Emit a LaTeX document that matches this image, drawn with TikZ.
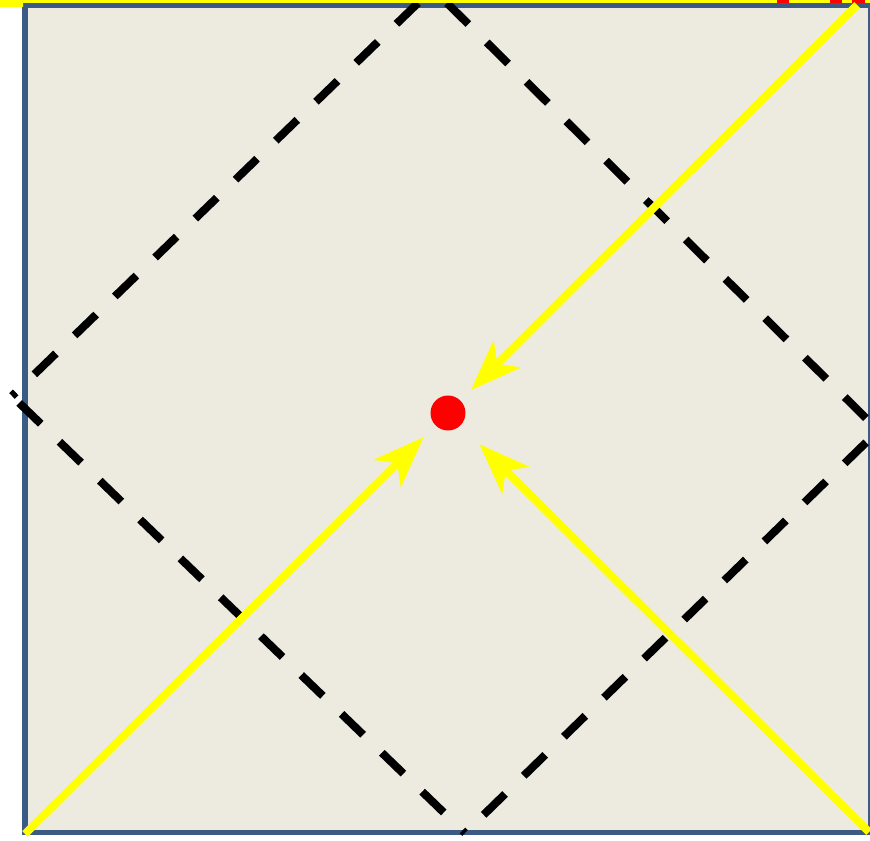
\documentclass[tikz,border=0pt]{standalone}
\usepackage{tikz}
\usetikzlibrary{arrows.meta}
\definecolor{PaperBeige}{HTML}{EDEBE0}
\definecolor{FrameBlue}{HTML}{3B5B85}
\definecolor{RayYellow}{HTML}{FFFF00}
\definecolor{EventRed}{HTML}{FF0000}

\begin{document}
\begin{tikzpicture}[x=0.02cm,y=-0.02cm,
    cone/.style={black, line width=0.16cm, dash pattern=on 0.6cm off 0.52cm},
    ray/.style={RayYellow, line width=0.16cm, -{Stealth[length=1.02cm,width=0.76cm,inset=0.28cm]}},
    event/.style={circle, fill=EventRed, inner sep=0pt, minimum size=0.7cm}]
        \useasboundingbox (0,0) rectangle (870,841);

        \fill[PaperBeige] (25,5) rectangle (871,833);
        \draw[FrameBlue, line width=0.11cm] (25,5.5) rectangle (871,832.5);

        % light cone of the event
        \coordinate (top) at (418,3);
        \coordinate (topR) at (447,3);
        \coordinate (left) at (12,396);
        \coordinate (bottom) at (465,833);
        \coordinate (rightA) at (885,437);
        \coordinate (rightB) at (885,424);
        \draw[cone] (top) -- (left);
        \draw[cone] (topR) -- (rightA);
        \draw[cone, dash phase=0.92cm] (left) -- (bottom);
        \draw[cone, dash phase=0.6cm] (bottom) -- (rightB);

        % strip along the top edge
        \fill[RayYellow] (0,0) -- (870,0) -- (870,3) -- (23,3) -- (23,7) -- (0,7) -- cycle;
        \foreach \a/\b in {777/789,830/842,852/865} {
            \fill[EventRed] (\a,0) rectangle (\b,3);
        }

        \node[event] (ev) at (448,413) {};

        \coordinate (src1) at (857,5);
        \coordinate (src2) at (25,834);
        \coordinate (src3) at (869,832);
        \draw[ray, shorten >=0.29cm] (src1) -- (ev);
        \draw[ray, shorten >=0.33cm] (src2) -- (ev);
        \draw[ray, shorten >=0.53cm] (src3) -- (ev);
    \end{tikzpicture}
\end{document}
